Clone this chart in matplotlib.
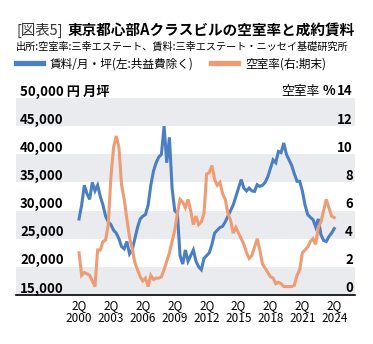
import matplotlib
matplotlib.use("Agg")
import matplotlib.pyplot as plt
from matplotlib.lines import Line2D
import numpy as np

plt.rcParams['font.family'] = ['Noto Sans CJK JP', 'DejaVu Sans']

# quarterly, 2Q 2000 .. 2Q 2024
rent = [28500, 31000, 34500, 33000, 32000, 35000, 33500, 34500, 32500, 31000,
        29000, 28000, 27500, 26500, 26000, 25000, 23600, 23200, 24500, 22300,
        23000, 25000, 27000, 28500, 29000, 29300, 31000, 34500, 37000, 38500,
        39500, 40000, 45000, 38500, 43000, 34000, 30000, 29500, 22000, 20500,
        23000, 21000, 22000, 23000, 21000, 20000, 19500, 21500, 22000, 22500,
        24000, 26000, 26500, 27000, 27200, 28000, 29000, 30000, 31000, 32500,
        34000, 35500, 34000, 33500, 34000, 33500, 33400, 34600, 34300, 34500,
        35000, 36000, 37500, 39000, 38500, 40500, 40300, 42000, 40000, 39000,
        38000, 36500, 35200, 35200, 33500, 31000, 29300, 28800, 28400, 27100,
        28500, 25700, 24700, 24500, 25400, 26000, 26800]

vacancy = [3.0, 1.4, 1.6, 1.5, 1.4, 1.0, 0.6, 3.2, 3.2, 3.8,
           3.9, 5.0, 8.4, 10.5, 11.3, 10.5, 7.8, 6.8, 5.4, 4.1,
           3.3, 2.3, 1.8, 1.3, 1.0, 1.2, 0.6, 1.4, 1.1, 1.2,
           1.2, 1.3, 1.8, 2.4, 3.0, 3.8, 4.6, 5.8, 6.8, 6.6,
           6.2, 6.8, 6.0, 5.0, 5.6, 5.0, 5.2, 5.8, 8.6, 8.7,
           9.2, 8.2, 7.8, 8.0, 7.2, 6.8, 5.8, 5.3, 4.4, 4.8,
           4.4, 4.0, 3.6, 3.0, 2.6, 2.8, 3.4, 4.0, 3.2, 2.2,
           1.9, 1.6, 1.3, 1.2, 0.8, 0.9, 0.8, 0.6, 0.6, 0.6,
           0.6, 0.7, 1.4, 1.8, 3.0, 3.2, 3.4, 3.8, 4.0, 3.6,
           4.8, 5.2, 6.0, 6.8, 6.2, 5.6, 5.5]

years = [2000, 2003, 2006, 2009, 2012, 2015, 2018, 2021, 2024]
left_ticks = [15000, 20000, 25000, 30000, 35000, 40000, 45000]
right_ticks = [0, 2, 4, 6, 8, 10, 12]

blue = '#4b7fc3'
orange = '#ef9b74'
band = '#e9ebee'

q = np.arange(len(rent))

fig = plt.figure(figsize=(3.73, 3.44), dpi=100)
ax = fig.add_axes([16/373, 1-295/344, 339/373, 197/344])
ax2 = ax.twinx()

ax.set_xlim(-23.7, 103.8)
ax.set_ylim(15000, 50000)
ax2.set_ylim(0, 14)

for lo in range(15000, 50000, 10000):
    ax.axhspan(lo, lo + 5000, color=band, lw=0, zorder=0)

ax.plot(q, rent, color=blue, lw=2.2, solid_joinstyle='miter', zorder=3)
ax2.plot(q, vacancy, color=orange, lw=2.2, solid_joinstyle='miter', zorder=2)

for a in (ax, ax2):
    for s in a.spines.values():
        s.set_visible(False)
    a.set_yticks([])
ax.spines['bottom'].set_visible(True)
ax.spines['bottom'].set_color('black')
ax.spines['bottom'].set_linewidth(1.2)

ax.set_xticks([(y - 2000) * 4 for y in years])
ax.set_xticklabels(['2Q\n%d' % y for y in years], fontsize=8.5, linespacing=0.95)
ax.tick_params(axis='x', length=0, pad=3)

ytr = ax.get_yaxis_transform()
for v in left_ticks:
    ax.text(0.012, v + 450, '{:,}'.format(v), transform=ytr, fontsize=9.5,
            fontweight='bold', ha='left', va='baseline')
ax.text(0.012, 50000 + 450, '50,000 円 月坪', transform=ytr, fontsize=9.5,
        fontweight='bold', ha='left', va='baseline', clip_on=False)

ytr2 = ax2.get_yaxis_transform()
for v in right_ticks + [14]:
    ax2.text(0.994, v + 0.18, str(v), transform=ytr2, fontsize=9.5,
             fontweight='bold', ha='right', va='baseline', clip_on=False)
ax2.text(0.941, 14 + 0.18, '%', transform=ytr2, fontsize=9.5,
         fontweight='bold', ha='right', va='baseline', clip_on=False)
ax2.text(0.894, 14 + 0.18, '空室率', transform=ytr2, fontsize=9.2,
         ha='right', va='baseline', clip_on=False)

fig.text(16/373, 1-30/344, '[図表5]', fontsize=10.4, color='#333333',
         ha='left', va='center')
fig.text(68/373, 1-30/344, '東京都心部Aクラスビルの空室率と成約賃料', fontsize=10.5,
         fontweight='bold', ha='left', va='center')
fig.text(16/373, 1-47/344, '出所:空室率:三幸エステート、賃料:三幸エステート・ニッセイ基礎研究所',
         fontsize=7.3, ha='left', va='center')

handles = [Line2D([], [], color=blue, lw=3.8), Line2D([], [], color=orange, lw=3.8)]
fig.legend(handles, ['賃料/月・坪(左:共益費除く)', '空室率(右:期末)'],
           loc='center left', bbox_to_anchor=(16/373, 1-64/344), ncol=2,
           frameon=False, fontsize=8.4, handlelength=2.3, handletextpad=0.6,
           columnspacing=1.5, borderpad=0, borderaxespad=0)

fig.savefig('out.png', dpi=100)
